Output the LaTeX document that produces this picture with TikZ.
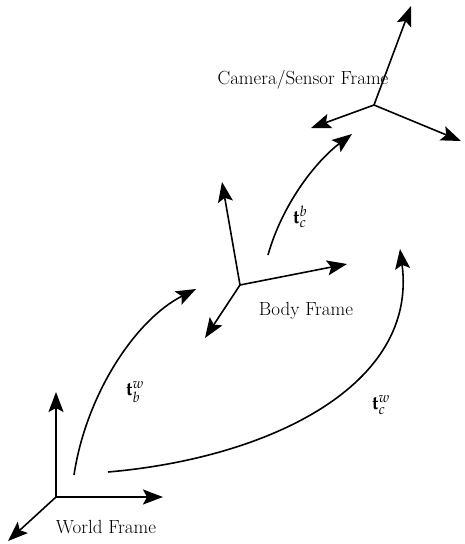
\documentclass[tikz,border=0pt]{standalone}
\usepackage{mathpazo}
\usetikzlibrary{arrows.meta}
\begin{document}
\begin{tikzpicture}[x=1pt,y=-1pt,
  ax/.style={line width=1.6pt,-{Stealth[length=20pt,width=15pt,inset=4pt]}},
  tr/.style={line width=1.6pt,-{Stealth[length=20pt,width=15pt,inset=4pt]}},
  lbl/.style={font=\fontsize{19}{22}\selectfont,inner sep=0pt},
  mlbl/.style={font=\fontsize{19}{22}\selectfont,inner sep=0pt}]
\useasboundingbox (0,0) rectangle (464,544);
% World frame
\coordinate (W) at (56,497);
\coordinate (Wx) at (163,497);
\coordinate (Wy) at (56,392);
\coordinate (Wz) at (8,541);
\draw[ax] (W) -- (Wx);
\draw[ax] (W) -- (Wy);
\draw[ax] (W) -- (Wz);
\node[lbl] (wl) at (106,527) {World Frame};
% Body frame
\coordinate (B) at (240,285);
\coordinate (Bx) at (347,264);
\coordinate (By) at (222,182);
\coordinate (Bz) at (205,338);
\draw[ax] (B) -- (Bx);
\draw[ax] (B) -- (By);
\draw[ax] (B) -- (Bz);
\node[lbl] (bl) at (306,311) {Body Frame};
% Camera frame
\coordinate (C) at (374,105);
\coordinate (Cx) at (461,141);
\coordinate (Cy) at (411,6);
\coordinate (Cz) at (311,128);
\draw[ax] (C) -- (Cx);
\draw[ax] (C) -- (Cy);
\draw[ax] (C) -- (Cz);
\node[lbl] (cl) at (303,80) {Camera/Sensor Frame};
% transforms
\coordinate (s1) at (74,475);
\coordinate (e1) at (196,289);
\draw[tr] (s1) .. controls (86,395) and (135,320) .. (e1);
\coordinate (s2) at (108,472);
\coordinate (e2) at (400,249);
\draw[tr] (s2) .. controls (270,458) and (418,385) .. (e2);
\coordinate (s3) at (268,255);
\coordinate (e3) at (352,134);
\draw[tr] (s3) .. controls (282,205) and (315,162) .. (e3);
\node[mlbl] (twb) at (135,392) {$\mathbf{t}_b^w$};
\node[mlbl] (tbc) at (300,217) {$\mathbf{t}_c^b$};
\node[mlbl] (twc) at (381,405) {$\mathbf{t}_c^w$};
\end{tikzpicture}
\end{document}
